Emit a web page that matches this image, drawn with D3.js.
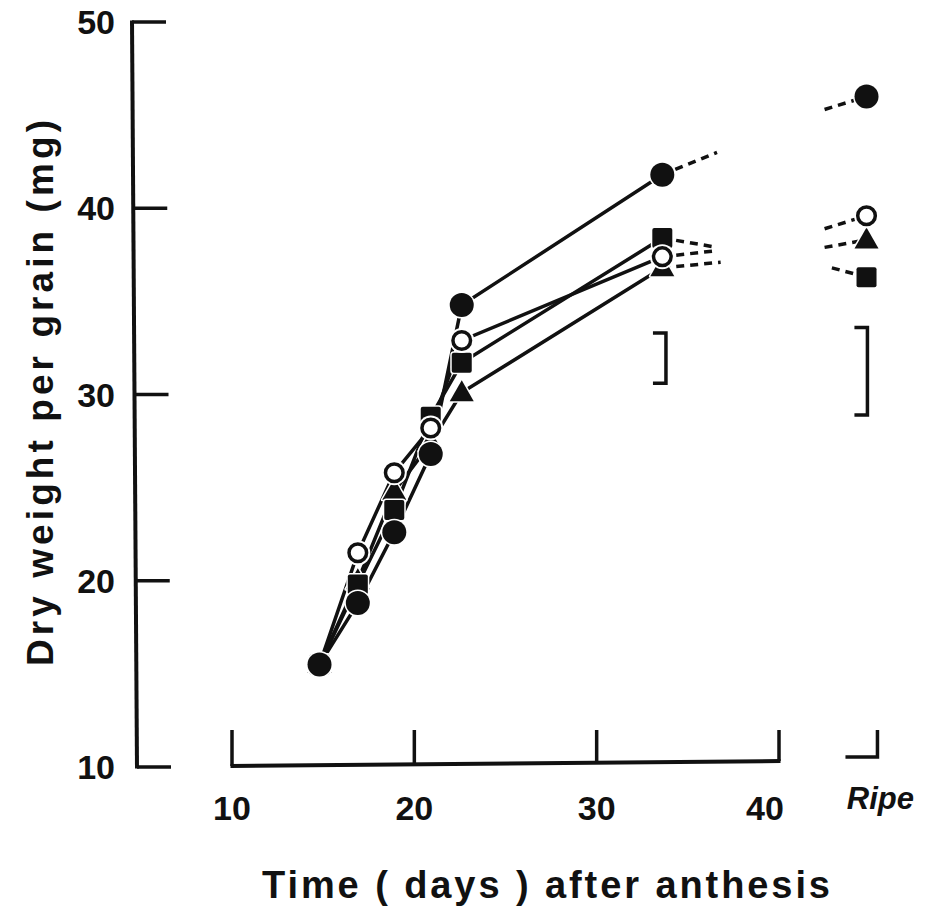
<!DOCTYPE html>
<html><head><meta charset="utf-8">
<script src="https://cdn.jsdelivr.net/npm/d3@7"></script>
<style>body{margin:0;background:#fff}svg{display:block}</style>
</head><body>
<script>
const days = [14.8, 16.9, 18.9, 20.9, 22.6, 33.6];
const ripeX = 44.8;
const filledCircle = [15.5, 18.8, 22.6, 26.8, 34.8, 41.8];
const openCircle   = [15.5, 21.5, 25.8, 28.2, 32.9, 37.4];
const square       = [15.5, 19.8, 23.8, 28.8, 31.7, 38.4];
const triangle     = [15.5, 20.0, 24.8, 27.4, 30.1, 36.8];
const ripeValues = {filledCircle: 46.0, openCircle: 39.6, square: 36.3, triangle: 38.3};
// dashed continuation after last sampling date: [day, value]
const dashOut = {filledCircle: [36.6, 43.0], openCircle: [36.4, 37.7], square: [36.6, 37.9], triangle: [36.8, 37.1]};
// dashed lead-in to ripe values: [day, value]
const dashIn = {filledCircle: [42.5, 45.3], openCircle: [42.5, 38.9], square: [42.9, 36.8], triangle: [42.5, 37.9]};
const errorBars = [{x: 33.8, top: 33.3, bottom: 30.6}, {x: 44.85, top: 33.6, bottom: 28.9}];
const xTicks = [10, 20, 30, 40];
const yTicks = [10, 20, 30, 40, 50];
const ripeTick = 45.4;

const W = 928, H = 911;
const svg = d3.select("body").append("svg").attr("width", W).attr("height", H);
const x = d3.scaleLinear().domain([10, 40]).range([232, 779]);
const y = d3.scaleLinear().domain([10, 50]).range([767, 22]);
const font = "'Liberation Sans', Arial, Helvetica, sans-serif";

// Y axis
const yAxisX = 134;
svg.append("line").attr("x1", yAxisX - 2).attr("x2", yAxisX + 3).attr("y1", y(50) - 1.5).attr("y2", y(10) + 1.5)
  .attr("stroke", "#111").attr("stroke-width", 4);
svg.selectAll(".ytick").data(yTicks).join("line")
  .attr("x1", d => yAxisX - 2 + 5 * (50 - d) / 40).attr("x2", d => yAxisX + 32 + 5 * (50 - d) / 40)
  .attr("y1", d => y(d)).attr("y2", d => y(d))
  .attr("stroke", "#111").attr("stroke-width", 3.5);
svg.selectAll(".ylab").data(yTicks).join("text")
  .attr("x", 115).attr("y", d => y(d) + 12).attr("text-anchor", "end")
  .attr("font-family", font).attr("font-weight", "bold").attr("font-size", 34).attr("fill", "#111")
  .text(d => d);

// X axis
const xAxisY = 764;
svg.append("line").attr("x1", x(10) - 1.5).attr("x2", x(40) + 1.5).attr("y1", xAxisY + 2).attr("y2", xAxisY - 3)
  .attr("stroke", "#111").attr("stroke-width", 4);
svg.selectAll(".xtick").data(xTicks).join("line")
  .attr("x1", d => x(d)).attr("x2", d => x(d))
  .attr("y1", d => xAxisY + 2 - 5 * (d - 10) / 30).attr("y2", xAxisY - 34)
  .attr("stroke", "#111").attr("stroke-width", 3.5);
svg.selectAll(".xlab").data(xTicks).join("text")
  .attr("x", (d, i) => x(d) + (i === xTicks.length - 1 ? -14 : 0)).attr("y", 820).attr("text-anchor", "middle")
  .attr("font-family", font).attr("font-weight", "bold").attr("font-size", 34).attr("fill", "#111")
  .text(d => d);
// ripe mini axis
svg.append("path")
  .attr("d", `M${x(ripeTick)},730 L${x(ripeTick)},757 L${x(ripeTick) - 32},757`)
  .attr("fill", "none").attr("stroke", "#111").attr("stroke-width", 3.5);
svg.append("text").attr("x", x(ripeTick) + 3).attr("y", 809).attr("text-anchor", "middle")
  .attr("font-family", font).attr("font-weight", "bold").attr("font-style", "italic").attr("font-size", 31)
  .attr("fill", "#111").text("Ripe");

// Titles
svg.append("text").attr("x", 262).attr("y", 898)
  .attr("font-family", font).attr("font-weight", "bold").attr("font-size", 38).attr("fill", "#111")
  .attr("textLength", 568).attr("lengthAdjust", "spacing")
  .text("Time ( days ) after anthesis");
svg.append("text").attr("transform", "translate(53,666) rotate(-90)")
  .attr("font-family", font).attr("font-weight", "bold").attr("font-size", 37).attr("fill", "#111")
  .attr("textLength", 546).attr("lengthAdjust", "spacing")
  .text("Dry weight per grain  (mg)");

// Error bars
errorBars.forEach(e => {
  svg.append("path")
    .attr("d", `M${x(e.x) - 13},${y(e.top)} L${x(e.x)},${y(e.top)} L${x(e.x)},${y(e.bottom)} L${x(e.x) - 13},${y(e.bottom)}`)
    .attr("fill", "none").attr("stroke", "#111").attr("stroke-width", 3.5);
});

const series = [
  {key: "filledCircle", values: filledCircle},
  {key: "openCircle", values: openCircle},
  {key: "square", values: square},
  {key: "triangle", values: triangle}
];
const line = d3.line().x(d => x(d[0])).y(d => y(d[1]));

// solid lines
series.forEach(s => {
  svg.append("path").datum(days.map((d, i) => [d, s.values[i]]))
    .attr("d", line).attr("fill", "none").attr("stroke", "#111").attr("stroke-width", 3.5);
});
// dashed lines
series.forEach(s => {
  const last = s.values.length - 1;
  svg.append("path").datum([[days[last], s.values[last]], dashOut[s.key]])
    .attr("d", line).attr("fill", "none").attr("stroke", "#111").attr("stroke-width", 3.5)
    .attr("stroke-dasharray", "8,6").attr("stroke-dashoffset", -14);
  svg.append("path").datum([dashIn[s.key], [ripeX, ripeValues[s.key]]])
    .attr("d", line).attr("fill", "none").attr("stroke", "#111").attr("stroke-width", 3.5)
    .attr("stroke-dasharray", "8,6");
});

function drawMarker(g, key, cx, cy) {
  if (key === "filledCircle") {
    g.append("circle").attr("cx", cx).attr("cy", cy).attr("r", 12).attr("fill", "#111")
      .attr("stroke", "#fff").attr("stroke-width", 3).attr("paint-order", "stroke");
  } else if (key === "openCircle") {
    g.append("circle").attr("cx", cx).attr("cy", cy).attr("r", 12.5).attr("fill", "#fff");
    g.append("circle").attr("cx", cx).attr("cy", cy).attr("r", 8.8).attr("fill", "#fff")
      .attr("stroke", "#111").attr("stroke-width", 3.5);
  } else if (key === "square") {
    g.append("rect").attr("x", cx - 10).attr("y", cy - 10).attr("width", 20).attr("height", 20).attr("rx", 2)
      .attr("fill", "#111").attr("stroke", "#fff").attr("stroke-width", 3).attr("paint-order", "stroke");
  } else {
    g.append("path").attr("d", `M${cx},${cy - 12.5} L${cx + 12},${cy + 8.5} L${cx - 12},${cy + 8.5} Z`)
      .attr("fill", "#111").attr("stroke", "#fff").attr("stroke-width", 3).attr("paint-order", "stroke")
      .attr("stroke-linejoin", "round");
  }
}
const mg = svg.append("g");
const order = ["triangle", "square", "openCircle", "filledCircle"];
order.forEach(k => {
  const s = series.find(t => t.key === k);
  days.forEach((d, i) => drawMarker(mg, k, x(d), y(s.values[i])));
  drawMarker(mg, k, x(ripeX), y(ripeValues[k]));
});
</script>
</body></html>
